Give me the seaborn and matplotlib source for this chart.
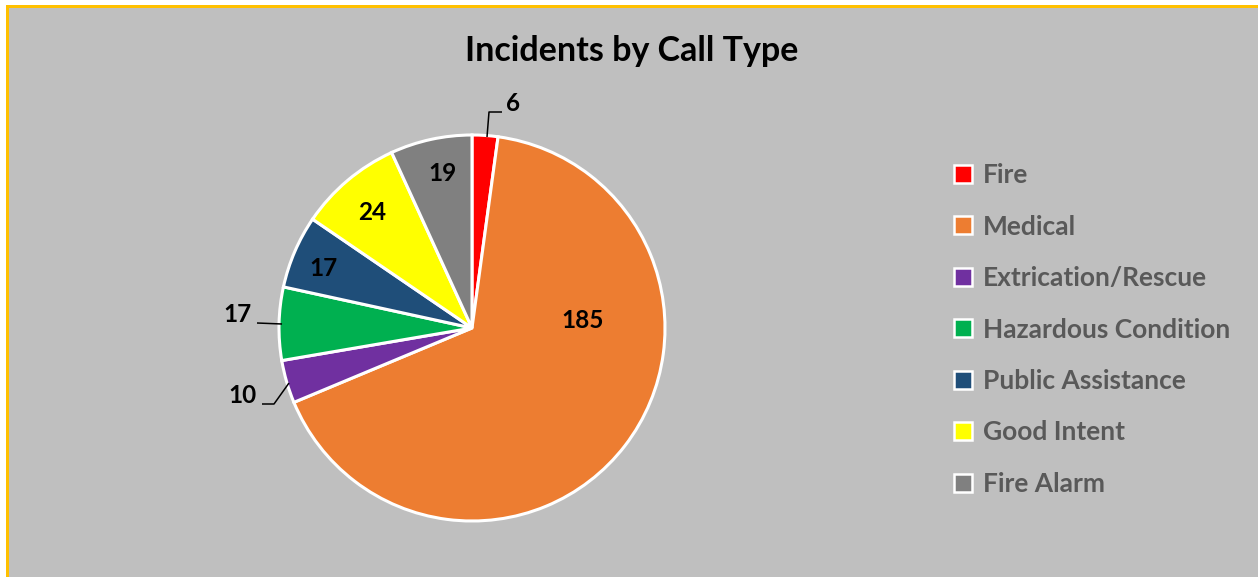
import matplotlib
matplotlib.use("Agg")
import matplotlib.pyplot as plt
import seaborn as sns
from matplotlib.patches import Rectangle
from matplotlib.lines import Line2D
from matplotlib import font_manager as fm

# data
call_types = ['Fire', 'Medical', 'Extrication/Rescue', 'Hazardous Condition',
              'Public Assistance', 'Good Intent', 'Fire Alarm']
incidents = [6, 185, 10, 17, 17, 24, 19]
slice_colors = ['#FF0000', '#ED7D31', '#7030A0', '#00B050', '#1F4E79', '#FFFF00', '#808080']

# label spots (pie radius = 1)
label_pos = [(0.21, 1.165), (0.575, 0.04), (-1.19, -0.35), (-1.215, 0.07),
             (-0.77, 0.31), (-0.515, 0.60), (-0.155, 0.80)]

sns.set_style('white')

# pick a family that really has a bold face
font_name = 'DejaVu Sans'
for fam in ['Lato', 'Open Sans', 'Noto Sans', 'Roboto', 'Liberation Sans']:
    try:
        p = fm.findfont(fm.FontProperties(family=fam, weight='bold'), fallback_to_default=False)
        if 'bold' in p.lower():
            font_name = fam
            break
    except Exception:
        pass
plt.rcParams['font.family'] = [font_name, 'DejaVu Sans']

W, H = 1258, 577
fig = plt.figure(figsize=(W / 100, H / 100), dpi=100)
fig.patch.set_facecolor('#BFBFBF')

# white margin + gold border on top/left
fig.add_artist(Rectangle((0, 0), 6 / W, 1, transform=fig.transFigure, color='white', lw=0))
fig.add_artist(Rectangle((0, 1 - 5 / H), 1, 5 / H, transform=fig.transFigure, color='white', lw=0))
fig.add_artist(Rectangle((6 / W, 0), 2.5 / W, 1 - 5 / H, transform=fig.transFigure, color='#FFC000', lw=0))
fig.add_artist(Rectangle((6 / W, 1 - 7.5 / H), 1, 2.5 / H, transform=fig.transFigure, color='#FFC000', lw=0))

cx, cy, r = 472, 328, 193
ax = fig.add_axes([(cx - r) / W, (H - cy - r) / H, 2 * r / W, 2 * r / H])
ax.set_facecolor('none')

palette = sns.color_palette(slice_colors)
wedges, _ = ax.pie(incidents, colors=palette, startangle=90, counterclock=False,
                   radius=1, wedgeprops=dict(edgecolor='white', linewidth=2.2))
ax.set_xlim(-1, 1)
ax.set_ylim(-1, 1)
ax.set_aspect('equal')
ax.axis('off')

for val, (lx, ly) in zip(incidents, label_pos):
    ax.text(lx, ly, str(val), ha='center', va='center', fontsize=17.5,
            fontweight='bold', color='black')

# leader lines for the small outside labels
def px(x, y):
    return ((x - cx) / r, (cy - y) / r)

for pts in [[(487, 137), (489, 112), (502, 112)],
            [(257, 323), (282, 324)],
            [(289, 383), (274, 404), (262, 404)]]:
    xs, ys = zip(*[px(*p) for p in pts])
    ax.plot(xs, ys, color='black', lw=1.1, solid_capstyle='butt', clip_on=False)

fig.text(632 / W, 1 - 51 / H, 'Incidents by Call Type', ha='center', va='center',
         fontsize=24.5, fontweight='bold', color='black')

handles = [Line2D([], [], marker='s', ls='', markersize=13, markerfacecolor=c,
                  markeredgecolor='white', markeredgewidth=1.8) for c in slice_colors]
leg = fig.legend(handles, call_types, loc='upper left', bbox_to_anchor=(937 / W, 1 - 150 / H),
                 frameon=False, prop=dict(size=19, weight='bold'), labelspacing=1.04,
                 handletextpad=0.25, handlelength=1.0, borderpad=0)
for t in leg.get_texts():
    t.set_color('#595959')

fig.savefig('out.png', dpi=100, facecolor=fig.get_facecolor())
